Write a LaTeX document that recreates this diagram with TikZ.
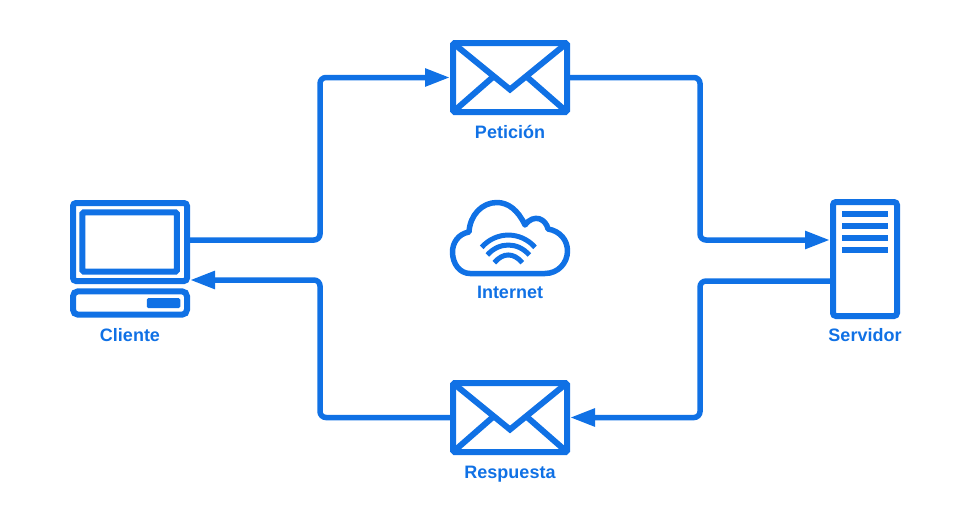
\documentclass[tikz,border=0pt]{standalone}
\usepackage{fontspec}
\setmainfont{Liberation Sans}
\usetikzlibrary{arrows.meta}
\definecolor{netblue}{HTML}{1071E5}
\begin{document}
\begin{tikzpicture}[x=1pt, y=-1pt,
		icon/.style={shape=rectangle, line width=6pt, draw=netblue, rounded corners=3pt, inner sep=0pt},
		glyph/.style={line width=6pt, draw=netblue},
		flow/.style={line width=5.5pt, draw=netblue, rounded corners=6pt, -{Triangle[length=25pt,width=17pt]}},
		tag/.style={text=netblue, font=\bfseries\fontsize{18}{20}\selectfont, inner sep=0pt, anchor=base}]
		\useasboundingbox (0,0) rectangle (970,525);
		\node (monitor) at (130,242) [icon, minimum width=114pt, minimum height=78pt] {};
		\node (screen) at (129.6,242) [icon, minimum width=94.7pt, minimum height=59.4pt, rounded corners=1.5pt] {};
		\node (tower) at (130,303) [icon, minimum width=114pt, minimum height=23.4pt, rounded corners=5pt] {};
		\node (slot) at (163.5,303) [shape=rectangle, fill=netblue, minimum width=33.5pt, minimum height=10pt, inner sep=0pt, rounded corners=1.5pt] {};
		\node (server) at (865,259) [icon, minimum width=64pt, minimum height=114pt] {};
		\node (peticion) at (510,77.5) [icon, minimum width=114pt, minimum height=69pt, rounded corners=1.5pt] {};
		\node (respuesta) at (510,417.5) [icon, minimum width=114pt, minimum height=69pt, rounded corners=1.5pt] {};
		\draw[glyph, line join=miter] (453,43) -- (510,89.5) -- (567,43);
		\draw[glyph] (453,112) -- (493,77);
		\draw[glyph] (567,112) -- (527,77);
		\draw[glyph, line join=miter] (453,383) -- (510,429.5) -- (567,383);
		\draw[glyph] (453,452) -- (493,417);
		\draw[glyph] (567,452) -- (527,417);
		\draw[glyph, line width=5.7pt] (842,213.8) -- (888,213.8);
		\draw[glyph, line width=5.7pt] (842,225.8) -- (888,225.8);
		\draw[glyph, line width=5.7pt] (842,237.8) -- (888,237.8);
		\draw[glyph, line width=5.7pt] (842,249.8) -- (888,249.8);
		\draw[glyph, line width=5.5pt, line join=round] (470,273.5) -- (545,273.5) .. controls (558,273.5) and (567.5,263) .. (567.5,251) .. controls (567.5,240) and (560,231) .. (548,229) .. controls (546,219) and (534,213) .. (525,225) .. controls (518,210) and (508,202.5) .. (497,202.5) .. controls (482,202.5) and (470,215) .. (469,232) .. controls (458,234) and (452.5,243) .. (452.5,252) .. controls (452.5,264) and (460,273.5) .. (470,273.5) -- cycle;
		\draw[glyph, line width=5pt] (494.3,262.7) .. controls (503,252.4) and (513.6,252.4) .. (522.3,262.7);
		\draw[glyph, line width=5pt] (487.3,255) .. controls (499,241.7) and (517.6,241.7) .. (529.3,255);
		\draw[glyph, line width=5pt] (481.7,247.3) .. controls (496,231) and (520.7,231) .. (535,247.3);
		\coordinate (bendA) at (320,160);
		\coordinate (bendB) at (700,160);
		\coordinate (bendC) at (700,350);
		\coordinate (bendD) at (320,350);
		\draw[flow] ([yshift=2pt]monitor.east) -| (bendA) |- (peticion.west);
		\draw[flow] (peticion.east) -| (bendB) |- ([yshift=19pt]server.west);
		\draw[flow] ([yshift=-22pt]server.west) -| (bendC) |- (respuesta.east);
		\draw[flow] (respuesta.west) -| (bendD) |- ([yshift=4pt]monitor.south east);
		\node (cliente) at (130,341) [tag] {Cliente};
		\node (labelPeticion) at (510,138) [tag] {Petición};
		\node (internet) at (510,298.5) [tag] {Internet};
		\node (servidor) at (865,341.7) [tag] {Servidor};
		\node (labelRespuesta) at (510,478) [tag] {Respuesta};
	\end{tikzpicture}
\end{document}
